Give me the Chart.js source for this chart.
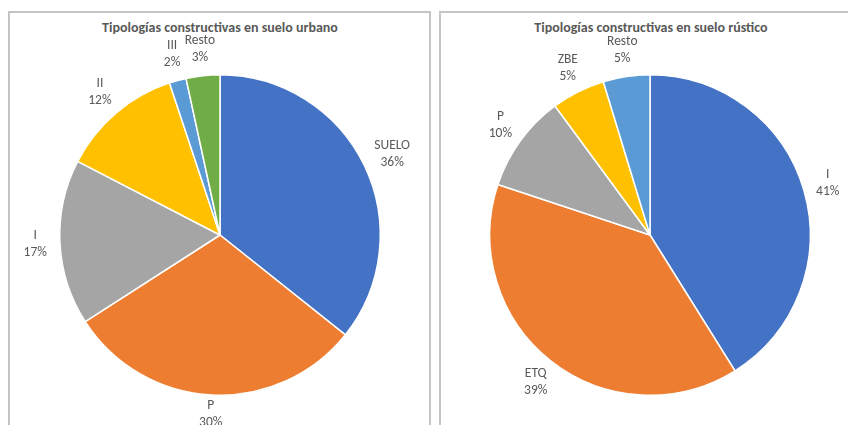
<!DOCTYPE html>
<html>
<head>
<meta charset="utf-8">
<script src="https://cdn.jsdelivr.net/npm/chart.js@4"></script>
<style>
  body { margin: 0; background: #fff; width: 848px; height: 425px; overflow: hidden; position: relative; font-family: "Carlito", "Noto Sans", sans-serif; }
  .panel { position: absolute; border: 2px solid #c4c4c4; box-sizing: border-box; }
  .title { position: absolute; top: 19px; left: 0; width: 100%; text-align: center; font-weight: bold; font-size: 14px; line-height: 18px; color: #595959; }
  canvas { position: absolute; }
</style>
</head>
<body>
<div class="panel" style="left:8px; top:11px; width:423px; height:430px;"></div>
<div class="panel" style="left:439px; top:11px; width:420px; height:430px;"></div>
<div class="title" style="left:0; width:440px;">Tipologías constructivas en suelo urbano</div>
<div class="title" style="left:430px; width:442px;">Tipologías constructivas en suelo rústico</div>
<canvas id="urbano_chart" width="440" height="425" style="left:0; top:0;"></canvas>
<canvas id="rustico_chart" width="440" height="425" style="left:430px; top:0;"></canvas>
<script>
const urbanoLabels = ["SUELO", "P", "I", "II", "III", "Resto"];
const urbanoValues = [35.7, 30.2, 16.7, 12.3, 1.7, 3.4];
const urbanoColors = ["#4472C4", "#ED7D31", "#A5A5A5", "#FFC000", "#5B9BD5", "#70AD47"];

const rusticoLabels = ["I", "ETQ", "P", "ZBE", "Resto"];
const rusticoValues = [41.1, 39.0, 9.8, 5.4, 4.7];
const rusticoColors = ["#4472C4", "#ED7D31", "#A5A5A5", "#FFC000", "#5B9BD5"];

// etiquetas fuera del sector: nombre + porcentaje
const outsideLabels = {
    id: "outsideLabels",
    afterDatasetsDraw(chart) {
        const ctx = chart.ctx;
        const meta = chart.getDatasetMeta(0);
        const data = chart.data.datasets[0].data;
        const total = data.reduce((a, b) => a + b, 0);
        ctx.save();
        ctx.fillStyle = "#595959";
        ctx.font = '13.5px "Carlito", "Noto Sans", sans-serif';
        ctx.textAlign = "center";
        ctx.textBaseline = "middle";
        meta.data.forEach((arc, i) => {
            const name = chart.data.labels[i];
            const pct = Math.round(data[i] / total * 100) + "%";
            const w = Math.max(ctx.measureText(name).width, ctx.measureText(pct).width);
            const mid = (arc.startAngle + arc.endAngle) / 2;
            const r = arc.outerRadius + 13;
            const x = arc.x + Math.cos(mid) * (r + w / 2);
            let y = arc.y + Math.sin(mid) * (r + 14);
            y = Math.min(y, chart.height - 11);
            ctx.fillText(name, x, y - 8.5);
            ctx.fillText(pct, x, y + 8.5);
        });
        ctx.restore();
    }
};

function makePie(id, labels, values, colors, pad) {
    return new Chart(document.getElementById(id), {
        type: "pie",
        data: {
            labels: labels,
            datasets: [{
                data: values,
                backgroundColor: colors,
                borderColor: "#ffffff",
                borderWidth: 1.5
            }]
        },
        options: {
            responsive: false,
            animation: false,
            layout: { padding: pad },
            plugins: {
                legend: { display: false },
                tooltip: { enabled: false }
            }
        },
        plugins: [outsideLabels]
    });
}

makePie("urbano_chart", urbanoLabels, urbanoValues, urbanoColors, { left: 59, right: 59, top: 74, bottom: 29 });
makePie("rustico_chart", rusticoLabels, rusticoValues, rusticoColors, { left: 59, right: 59, top: 74, bottom: 29 });
</script>
</body>
</html>
